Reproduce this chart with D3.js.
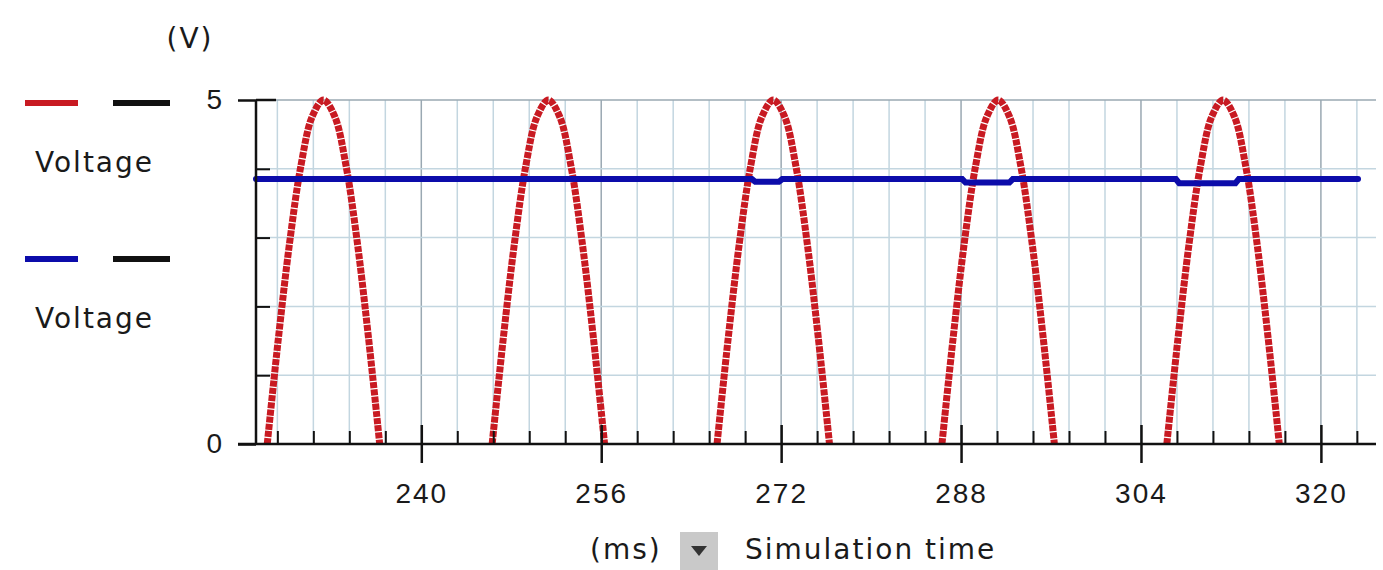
<!DOCTYPE html>
<html>
  <head>
    <meta charset="utf-8">
    <title>Voltage vs simulation time</title>
    <style>
      body {
        margin: 0;
        background: #fff;
        font-family: 'DejaVu Sans', Verdana, sans-serif;
      }
      svg text {
        fill: #1a1a1a;
        font-size: 28px;
        letter-spacing: 2px;
      }
      .axis path.domain {
        stroke: none;
      }
      .axis line {
        stroke: #111;
        stroke-width: 2.5;
      }
      .minor line {
        stroke-width: 2;
      }
      .grid line {
        stroke: #c3d6e0;
        stroke-width: 1.5;
      }
      .grid line.major {
        stroke: #9aa8b2;
      }
    </style>
  </head>
  <body>
    <svg width="1383" height="570"></svg>
    <script src="https://d3js.org/d3.v7.min.js"></script>
    <script>
      // time window and ticks (ms / V)
      const timeDomain = [225.3, 324.9];
      const voltDomain = [0, 5];
      const xMajorTicks = [240, 256, 272, 288, 304, 320];
      const xMinorTicks = [227.2, 230.4, 233.6, 236.8, 243.2, 246.4, 249.6, 252.8,
        259.2, 262.4, 265.6, 268.8, 275.2, 278.4, 281.6, 284.8, 291.2, 294.4,
        297.6, 300.8, 307.2, 310.4, 313.6, 316.8, 323.2];
      const yMajorTicks = [0, 5];
      const yMinorTicks = [1, 2, 3, 4];

      // red trace: positive half-waves of the source voltage, one array per hump
      const redHumps = [
        [[226.3, 0], [227.3, 1.55], [228.3, 2.94], [229.3, 4.05], [230.3, 4.76], [231.3, 5],
         [232.3, 4.76], [233.3, 4.05], [234.3, 2.94], [235.3, 1.55], [236.3, 0]],
        [[246.3, 0], [247.3, 1.55], [248.3, 2.94], [249.3, 4.05], [250.3, 4.76], [251.3, 5],
         [252.3, 4.76], [253.3, 4.05], [254.3, 2.94], [255.3, 1.55], [256.3, 0]],
        [[266.3, 0], [267.3, 1.55], [268.3, 2.94], [269.3, 4.05], [270.3, 4.76], [271.3, 5],
         [272.3, 4.76], [273.3, 4.05], [274.3, 2.94], [275.3, 1.55], [276.3, 0]],
        [[286.3, 0], [287.3, 1.55], [288.3, 2.94], [289.3, 4.05], [290.3, 4.76], [291.3, 5],
         [292.3, 4.76], [293.3, 4.05], [294.3, 2.94], [295.3, 1.55], [296.3, 0]],
        [[306.3, 0], [307.3, 1.55], [308.3, 2.94], [309.3, 4.05], [310.3, 4.76], [311.3, 5],
         [312.3, 4.76], [313.3, 4.05], [314.3, 2.94], [315.3, 1.55], [316.3, 0]]
      ];

      // blue trace: nearly flat, with small dips at the later peaks
      const blueTrace = [
        [225.3, 3.85], [269.4, 3.85], [269.7, 3.81], [271.8, 3.81], [272.1, 3.85],
        [288.1, 3.85], [288.4, 3.8], [292.3, 3.8], [292.6, 3.85],
        [307.1, 3.85], [307.4, 3.79], [312.4, 3.79], [312.7, 3.85], [323.3, 3.85]
      ];

      const legendItems = [
        {color: '#c81a22', label: 'Voltage'},
        {color: '#0c0caa', label: 'Voltage'}
      ];

      const svg = d3.select('svg');
      svg.append('rect').attr('width', 1383).attr('height', 570).attr('fill', '#fff');

      const x = d3.scaleLinear().domain(timeDomain).range([256, 1376]);
      const y = d3.scaleLinear().domain(voltDomain).range([444, 100]);

      // grid
      const grid = svg.append('g').attr('class', 'grid');
      grid.selectAll('line.v')
        .data(xMinorTicks.concat(xMajorTicks))
        .enter().append('line')
          .attr('class', (d) => xMajorTicks.includes(d) ? 'major' : 'minor')
          .attr('x1', (d) => x(d)).attr('x2', (d) => x(d))
          .attr('y1', y(5)).attr('y2', y(0));
      grid.selectAll('line.h')
        .data(yMinorTicks.concat([5]))
        .enter().append('line')
          .attr('class', (d) => d === 5 ? 'major' : 'minor')
          .attr('x1', x.range()[0]).attr('x2', x.range()[1])
          .attr('y1', (d) => y(d)).attr('y2', (d) => y(d));

      // traces
      const line = d3.line()
        .x((d) => x(d[0]))
        .y((d) => y(d[1]));

      svg.append('g')
        .selectAll('path')
        .data(redHumps)
        .enter().append('path')
          .attr('d', line.curve(d3.curveCatmullRom))
          .attr('fill', 'none')
          .attr('stroke', '#c81a22')
          .attr('stroke-width', 7)
          .attr('stroke-dasharray', '6,1.2');

      svg.append('path')
        .datum(blueTrace)
        .attr('d', line.curve(d3.curveLinear))
        .attr('fill', 'none')
        .attr('stroke', '#0c0caa')
        .attr('stroke-width', 6)
        .attr('stroke-linecap', 'round');

      // axes
      const xMinorAxis = d3.axisTop(x).tickValues(xMinorTicks).tickSize(13).tickFormat('');
      svg.append('g')
        .attr('class', 'axis minor')
        .attr('transform', `translate(0,${y(0)})`)
        .call(xMinorAxis);

      const xAxis = d3.axisBottom(x).tickValues(xMajorTicks).tickSize(19).tickPadding(20)
        .tickFormat(d3.format('d'));
      const gx = svg.append('g')
        .attr('class', 'axis')
        .attr('transform', `translate(0,${y(0)})`)
        .call(xAxis);
      gx.selectAll('.tick line').attr('y1', -19);
      gx.selectAll('.tick text').attr('font-family', null).attr('font-size', null);

      const yMinorAxis = d3.axisRight(y).tickValues(yMinorTicks).tickSize(14).tickFormat('');
      svg.append('g')
        .attr('class', 'axis minor')
        .attr('transform', `translate(${x.range()[0]},0)`)
        .call(yMinorAxis);

      const yAxis = d3.axisLeft(y).tickValues(yMajorTicks).tickSize(18).tickPadding(14)
        .tickFormat(d3.format('d'));
      const gy = svg.append('g')
        .attr('class', 'axis')
        .attr('transform', `translate(${x.range()[0]},0)`)
        .call(yAxis);
      gy.selectAll('.tick text').attr('font-family', null).attr('font-size', null);

      // axis lines
      svg.append('line')
        .attr('x1', x.range()[0] - 18).attr('x2', x.range()[1])
        .attr('y1', y(0)).attr('y2', y(0))
        .attr('stroke', '#111').attr('stroke-width', 2.5);
      svg.append('line')
        .attr('x1', x.range()[0]).attr('x2', x.range()[0])
        .attr('y1', y(5)).attr('y2', y(0))
        .attr('stroke', '#111').attr('stroke-width', 2.5);
      svg.append('line')
        .attr('x1', x.range()[0]).attr('x2', x.range()[0] + 20)
        .attr('y1', y(5)).attr('y2', y(5))
        .attr('stroke', '#111').attr('stroke-width', 2.5);

      // unit labels
      svg.append('text')
        .attr('x', 190).attr('y', 48)
        .attr('text-anchor', 'middle')
        .text('(V)');

      svg.append('text')
        .attr('x', 590).attr('y', 559)
        .text('(ms)');
      const dropdown = svg.append('g').attr('transform', 'translate(680,532)');
      dropdown.append('rect')
        .attr('width', 38).attr('height', 38)
        .attr('fill', '#c9c9c9');
      dropdown.append('path')
        .attr('d', 'M11,14 L27,14 L19,24 Z')
        .attr('fill', '#333');
      svg.append('text')
        .attr('x', 745).attr('y', 559)
        .text('Simulation time');

      // legend
      const legend = svg.append('g')
        .selectAll('g')
        .data(legendItems)
        .enter().append('g')
          .attr('transform', (d, i) => `translate(0,${103 + i * 156})`);
      legend.append('line')
        .attr('x1', 25).attr('x2', 78)
        .attr('stroke', (d) => d.color)
        .attr('stroke-width', 6);
      legend.append('line')
        .attr('x1', 113).attr('x2', 170)
        .attr('stroke', '#111')
        .attr('stroke-width', 6);
      legend.append('text')
        .attr('x', 35).attr('y', 69)
        .text((d) => d.label);
    </script>
  </body>
</html>
